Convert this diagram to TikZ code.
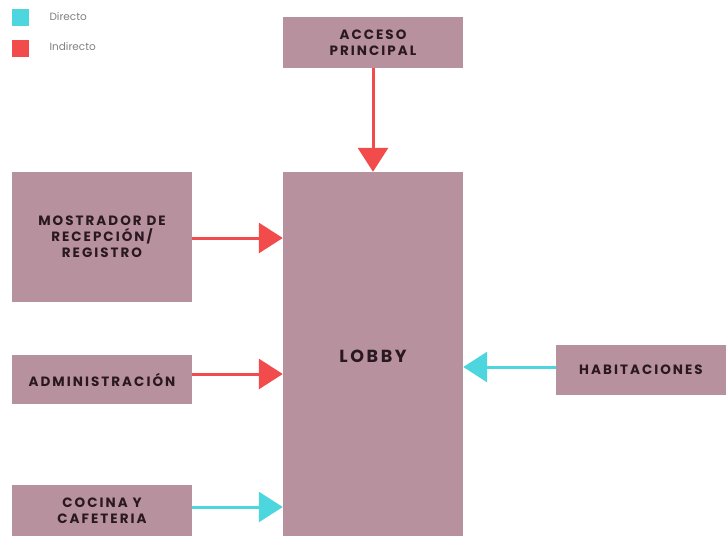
\documentclass[tikz,border=0pt]{standalone}
\usepackage{fontspec}
\setmainfont{Poppins}
\newfontfamily\boxfont[LetterSpace=15]{Poppins Bold}
\usetikzlibrary{arrows.meta}
\definecolor{boxfill}{HTML}{B8919E}
\definecolor{redarr}{HTML}{F24B4B}
\definecolor{cyanarr}{HTML}{4DD6DD}
\definecolor{txtdark}{HTML}{2A1820}
\tikzset{
  room/.style={fill=boxfill, draw=none, inner sep=0pt, font=\boxfont\fontsize{13.5}{16}\selectfont, text=txtdark, align=center},
  redlink/.style={draw=redarr, line width=3pt, -{Triangle[length=24pt,width=30pt]}},
  cyanlink/.style={draw=cyanarr, line width=3pt, -{Triangle[length=24pt,width=30pt]}},
  legtext/.style={font=\fontsize{10.5}{12}\selectfont, text=gray, anchor=west}
}
\begin{document}
\begin{tikzpicture}[x=1pt,y=-1pt]
\useasboundingbox (0,0) rectangle (726,536);
% legend
\fill[cyanarr] (12,9) rectangle (29,26);
\fill[redarr] (12,40) rectangle (29,57);
\node[legtext] (ld) at (46,17) {Directo};
\node[legtext] (li) at (46,47) {Indirecto};
% boxes
\node[room, minimum width=180pt, minimum height=51pt] (acc) at (373,42.5) {ACCESO\\PRINCIPAL};
\node[room, minimum width=180pt, minimum height=364pt] (lobby) at (373,354) {};
\node[text=txtdark, font=\boxfont\fontsize{17.5}{20}\selectfont] (lobbylbl) at (373,356) {LOBBY};
\node[room, minimum width=180pt, minimum height=130pt] (mos) at (102,237) {MOSTRADOR DE\\RECEPCIÓN/\\REGISTRO};
\node[room, minimum width=180pt, minimum height=49pt] (adm) at (102,379.5) {ADMINISTRACIÓN};
\node[room, minimum width=180pt, minimum height=51pt] (coc) at (102,510.5) {COCINA Y\\CAFETERIA};
\node[room, minimum width=170pt, minimum height=50pt] (hab) at (641,370) {HABITACIONES};
% connectors
\draw[redlink] (acc.south) -- (lobby.north);
\draw[redlink] (mos.east |- 0,238) -- (lobby.west |- 0,238);
\draw[redlink] (adm.east |- 0,374) -- (lobby.west |- 0,374);
\draw[cyanlink] (coc.east |- 0,507) -- (lobby.west |- 0,507);
\draw[cyanlink] (hab.west |- 0,367) -- (lobby.east |- 0,367);
\end{tikzpicture}
\end{document}
